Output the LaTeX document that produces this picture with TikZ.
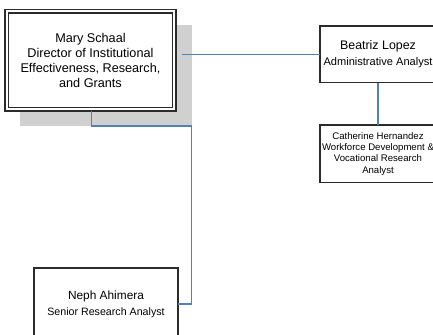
\documentclass[tikz,border=0pt]{standalone}
\usepackage{fontspec}
\setmainfont{Liberation Sans}
\definecolor{linkblue}{HTML}{4F81BD}
\definecolor{boxline}{HTML}{2B2B2B}
\definecolor{shade}{HTML}{D0D0D0}
\tikzset{
  card/.style={draw=boxline, line width=1pt, fill=white, outer sep=0pt, inner sep=0pt, align=center},
  link/.style={draw=linkblue, line width=0.8pt},
}
\begin{document}
\begin{tikzpicture}[x=0.75pt,y=-0.75pt]
  \useasboundingbox (0,0) rectangle (433,335);
  \clip (0,0) rectangle (433,335);
  \fill[white] (0,0) rectangle (433,335);

  % drop shadow behind the director box
  \node[fill=shade, inner sep=0pt, outer sep=0pt, minimum width=128.8pt, minimum height=75.75pt] (shadow) at (105.85,75.5) {};

  % director box with a double frame
  \node[card, line width=1.2pt, minimum width=127.9pt, minimum height=76pt,
        font=\fontsize{9.5pt}{11.25pt}\selectfont] (mary) at (90.45,60.35)
    {Mary Schaal\\Director of Institutional\\Effectiveness, Research,\\and Grants};
  \draw[boxline, line width=0.8pt] ([shift={(3.3,3.3)}]mary.north west) rectangle ([shift={(-3.3,-3.3)}]mary.south east);

  % staff boxes (their right sides run past the page edge)
  \node[card, minimum width=87pt, minimum height=42.4pt] (beatriz) at (378,54.25)
    {{\fontsize{9.3pt}{9.2pt}\selectfont Beatriz Lopez}\\[-0.6pt]{\fontsize{8.3pt}{9.2pt}\selectfont Administrative Analyst}};
  \node[card, minimum width=87pt, minimum height=43.1pt,
        font=\fontsize{7.2pt}{8.5pt}\selectfont] (catherine) at (378,153.75)
    {Catherine Hernandez\\Workforce Development \&\\Vocational Research\\Analyst};
  \node[card, minimum width=108pt, minimum height=54pt] (neph) at (106,304)
    {{\fontsize{8.9pt}{10pt}\selectfont Neph Ahimera}\\{\fontsize{8pt}{10pt}\selectfont Senior Research Analyst}};

  % connectors
  \coordinate (mj) at (182,54.25);
  \coordinate (bend) at (191.7,126);
  \draw[link] (mj) -- (beatriz.west);
  \draw[link] (beatriz.south) -- (beatriz.south |- catherine.north);
  \draw[link] ([xshift=0.9pt]mary.south) |- (bend) |- (neph.east);
\end{tikzpicture}
\end{document}
